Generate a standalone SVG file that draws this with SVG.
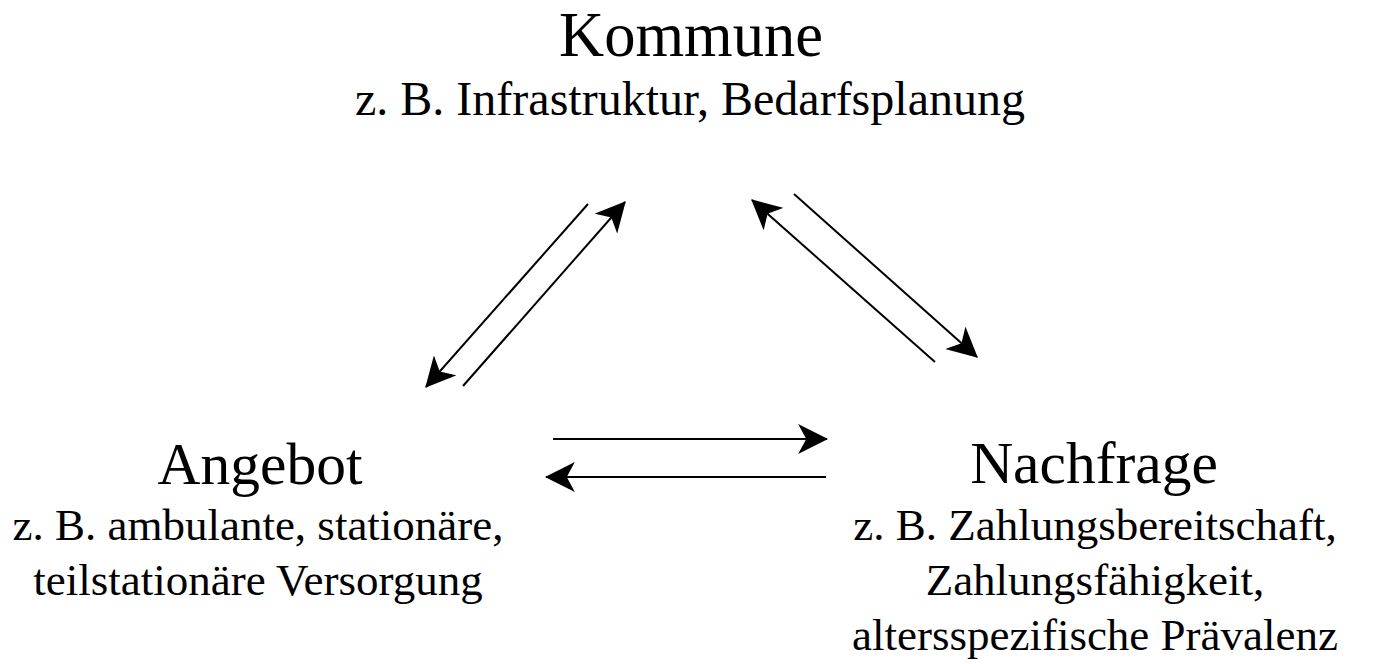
<svg xmlns="http://www.w3.org/2000/svg" width="1382" height="664" viewBox="0 0 1382 664">
<style>
text{font-family:"Liberation Serif","Times New Roman",serif;fill:#000;text-anchor:middle}
.t{font-size:62.5px}
.t2{font-size:59.5px}
.s{font-size:48px}
.s2{font-size:45px}
.c line{stroke:#000;stroke-width:2;fill:none;marker-end:url(#ah)}
</style>
<defs>
<marker id="ah" markerUnits="userSpaceOnUse" markerWidth="30" markerHeight="30" viewBox="0 0 26 26" refX="25" refY="13" orient="auto">
<path d="M0,0 L26,13 L0,26 L7,13 z" fill="#000"/>
</marker>
</defs>
<rect width="1382" height="664" fill="#fff"/>
<g id="kommune">
<text class="t" x="691" y="56">Kommune</text>
<text class="s" x="690" y="115">z. B. Infrastruktur, Bedarfsplanung</text>
</g>
<g id="angebot">
<text class="t2" x="260" y="484">Angebot</text>
<text class="s2" x="258" y="540">z. B. ambulante, stationäre,</text>
<text class="s2" x="258" y="595">teilstationäre Versorgung</text>
</g>
<g id="nachfrage">
<text class="t2" x="1094" y="483">Nachfrage</text>
<text class="s2" x="1095" y="540">z. B. Zahlungsbereitschaft,</text>
<text class="s2" x="1095" y="595">Zahlungsfähigkeit,</text>
<text class="s2" x="1095" y="650">altersspezifische Prävalenz</text>
</g>
<g id="connectors" class="c">
<line x1="588" y1="204" x2="426" y2="387"/>
<line x1="463" y1="386" x2="625" y2="202"/>
<line x1="935" y1="362" x2="752" y2="200"/>
<line x1="794" y1="194" x2="977" y2="357"/>
<line x1="553" y1="439" x2="827" y2="439"/>
<line x1="826" y1="477" x2="546" y2="477"/>
</g>
</svg>
